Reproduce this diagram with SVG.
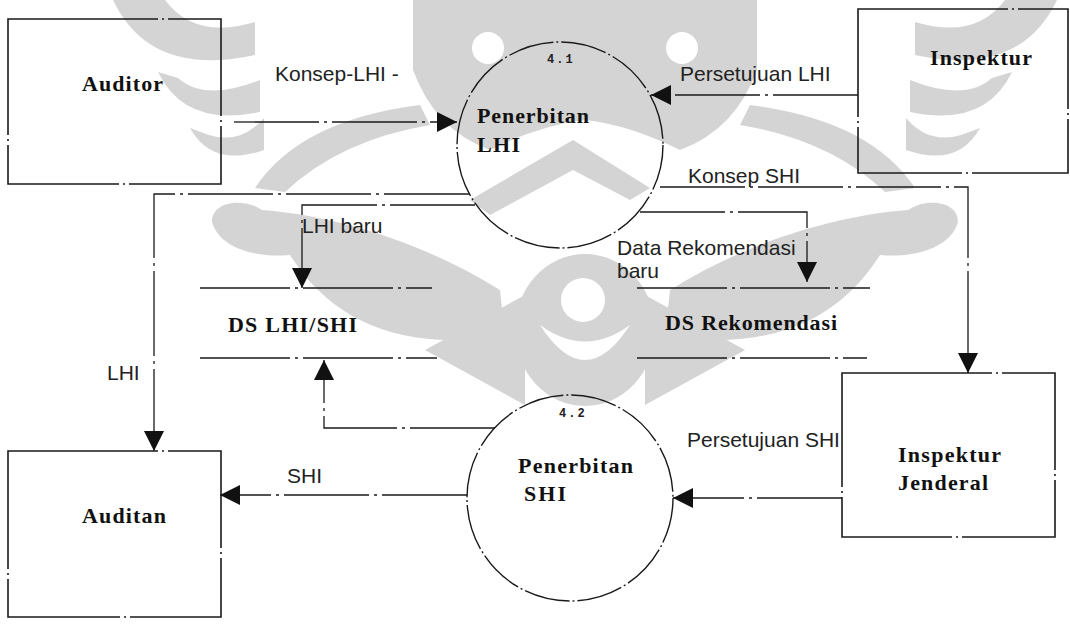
<svg xmlns="http://www.w3.org/2000/svg" width="1070" height="625" viewBox="0 0 1070 625">
  <style>
    .wm{fill:#d4d4d4}
    .wmh{fill:#ffffff}
    .box{fill:none;stroke:#1a1a1a;stroke-width:1.6;stroke-dasharray:150 4 2 4}
    .proc{fill:none;stroke:#1a1a1a;stroke-width:1.4;stroke-dasharray:46 3 2 3}
    .ds{fill:none;stroke:#1a1a1a;stroke-width:1.4;stroke-dasharray:90 5 3 5}
    .flow{fill:none;stroke:#1a1a1a;stroke-width:1.3;stroke-dasharray:85 5 3 5}
    .lbl{font-family:"Liberation Serif","Times New Roman",serif;font-weight:bold;font-size:22px;fill:#111}
    .flbl{font-family:"Liberation Sans",Arial,sans-serif;font-size:21px;fill:#222}
    .num{font-family:"Liberation Mono","Courier New",monospace;font-weight:bold;font-size:12px;fill:#222;letter-spacing:2px}
  </style>
  <defs>
    <marker id="ah" markerWidth="20" markerHeight="20" refX="20" refY="10" orient="auto" markerUnits="userSpaceOnUse">
      <path d="M0,0 L20,10 L0,20 Z" fill="#111"/>
    </marker>
    <!-- one half of the emblem; mirrored for the other side -->
    <g id="wing">
      <path class="wm" d="M113,0 Q150,78 255,55 L255,22 Q195,40 165,0 Z"/>
      <path class="wm" d="M158,72 Q185,128 260,112 L260,80 Q205,102 178,78 Z"/>
      <path class="wm" d="M190,128 Q212,168 264,150 L264,118 Q240,146 206,134 Z"/>
      <path class="wm" d="M255,188 Q300,120 420,105 L430,125 Q340,140 285,192 Z"/>
      <path class="wm" d="M212,222 C212,200 245,198 262,210 C330,215 420,240 500,290 L505,335 C450,345 400,340 360,320 C320,300 300,270 290,255 C260,258 220,250 212,222 Z"/>
      <path class="wm" d="M425,350 L525,295 L525,405 Z"/>
    </g>
  </defs>

  <rect width="1070" height="625" fill="#ffffff"/>

  <!-- background emblem -->
  <g id="watermark">
    <use href="#wing"/>
    <use href="#wing" transform="translate(1170,0) scale(-1,1)"/>
    <path class="wm" d="M413,0 L757,0 L757,70 Q735,130 680,150 Q630,125 585,120 Q540,125 490,150 Q435,130 413,70 Z"/>
    <circle class="wmh" cx="488" cy="48" r="16"/>
    <circle class="wmh" cx="682" cy="48" r="16"/>
    <path class="wm" d="M470,200 L573,140 L650,188 L630,200 L573,170 L490,215 Z"/>
    <ellipse class="wm" cx="585" cy="330" rx="70" ry="76"/>
    <circle class="wmh" cx="583" cy="300" r="22"/>
    <path class="wmh" d="M540,325 Q585,395 630,325 Q585,358 540,325 Z"/>
  </g>

  <!-- connectors -->
  <g id="connectors">
    <path class="flow" d="M234,122 L457,122" marker-end="url(#ah)"/>
    <path class="flow" d="M858,95 L651,95" marker-end="url(#ah)"/>
    <path class="flow" d="M660,187 L968,187 L968,373" marker-end="url(#ah)"/>
    <path class="flow" d="M469,194 L154,194 L154,451" marker-end="url(#ah)"/>
    <path class="flow" d="M475,205 L302,205 L302,288" marker-end="url(#ah)"/>
    <path class="flow" d="M640,212 L807,212 L807,282" marker-end="url(#ah)"/>
    <path class="flow" d="M495,428 L324,428 L324,360" marker-end="url(#ah)"/>
    <path class="flow" d="M467,495 L220,495" marker-end="url(#ah)"/>
    <path class="flow" d="M842,498 L673,498" marker-end="url(#ah)"/>
  </g>

  <!-- flow labels -->
  <g id="flow-labels">
    <text class="flbl" x="275" y="81">Konsep-LHI -</text>
    <text class="flbl" x="680" y="81">Persetujuan LHI</text>
    <text class="flbl" x="688" y="183">Konsep SHI</text>
    <text class="flbl" x="302" y="233">LHI baru</text>
    <text class="flbl" x="617" y="255">Data Rekomendasi</text>
    <text class="flbl" x="617" y="278">baru</text>
    <text class="flbl" x="107" y="380">LHI</text>
    <text class="flbl" x="287" y="483">SHI</text>
    <text class="flbl" x="687" y="447">Persetujuan SHI</text>
  </g>

  <g id="auditor">
    <rect class="box" x="8" y="19" width="213" height="165"/>
    <text class="lbl" x="82" y="91" textLength="81">Auditor</text>
  </g>

  <g id="inspektur">
    <rect class="box" x="858" y="9" width="210" height="164"/>
    <text class="lbl" x="930" y="65" textLength="102">Inspektur</text>
  </g>

  <g id="proses-4-1">
    <circle class="proc" cx="560" cy="145" r="103"/>
    <text class="num" x="547" y="63">4.1</text>
    <text class="lbl" x="477" y="123" textLength="112">Penerbitan</text>
    <text class="lbl" x="477" y="152" textLength="43">LHI</text>
  </g>

  <g id="ds-lhi-shi">
    <line class="ds" x1="200" y1="288" x2="432" y2="288"/>
    <line class="ds" x1="200" y1="358" x2="437" y2="358"/>
    <text class="lbl" x="228" y="332" textLength="129">DS LHI/SHI</text>
  </g>

  <g id="ds-rekomendasi">
    <line class="ds" x1="637" y1="288" x2="870" y2="288"/>
    <line class="ds" x1="637" y1="358" x2="867" y2="358"/>
    <text class="lbl" x="665" y="330" textLength="172">DS Rekomendasi</text>
  </g>

  <g id="proses-4-2">
    <circle class="proc" cx="570" cy="498" r="103"/>
    <text class="num" x="559" y="417">4.2</text>
    <text class="lbl" x="518" y="473" textLength="115">Penerbitan</text>
    <text class="lbl" x="524" y="501" textLength="42">SHI</text>
  </g>

  <g id="auditan">
    <rect class="box" x="8" y="451" width="213" height="166"/>
    <text class="lbl" x="82" y="523" textLength="84">Auditan</text>
  </g>

  <g id="inspektur-jenderal">
    <rect class="box" x="842" y="373" width="213" height="164"/>
    <text class="lbl" x="898" y="462" textLength="103">Inspektur</text>
    <text class="lbl" x="898" y="490" textLength="90">Jenderal</text>
  </g>
</svg>
